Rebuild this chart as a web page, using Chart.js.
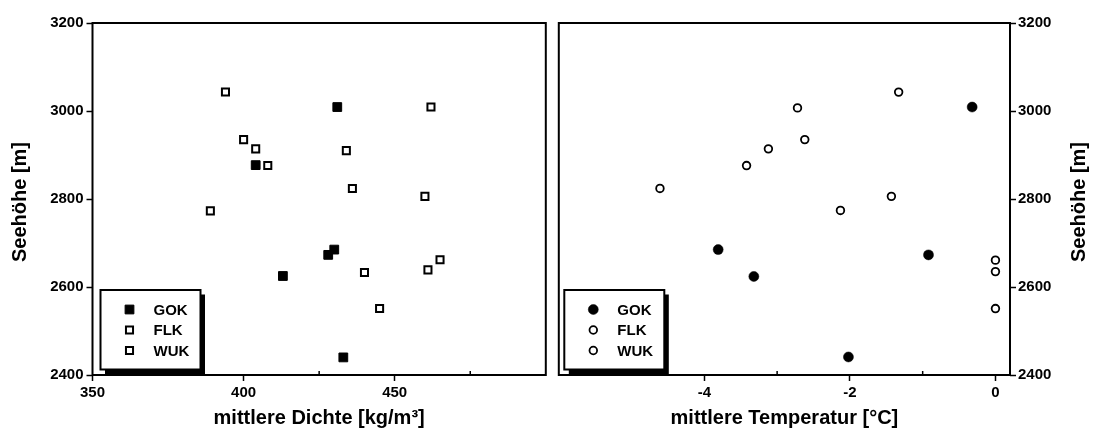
<!DOCTYPE html>
<html>
<head>
<meta charset="utf-8">
<script src="https://cdn.jsdelivr.net/npm/chart.js@4.4.1/dist/chart.umd.min.js"></script>
<style>
  body { margin: 0; background: #fff; }
  #wrap { position: relative; width: 1094px; height: 435px; }
  canvas { position: absolute; top: 0; }
  #left { left: 0; }
  #right { left: 553px; }
</style>
</head>
<body>
<div id="wrap">
  <canvas id="left" width="553" height="435"></canvas>
  <canvas id="right" width="541" height="435"></canvas>
</div>
<script>
// left panel: mittlere Dichte [kg/m³] against Seehöhe [m]
const gokDichte = [431, 404, 413, 428, 430, 433];
const gokDichteHoehe = [3009, 2877, 2625, 2673, 2685, 2440];
const flkDichte = [389, 460, 436, 440, 461, 465, 445];
const flkDichteHoehe = [2773, 2806, 2824, 2633, 2639, 2662, 2551];
const wukDichte = [394, 462, 400, 404, 434, 408];
const wukDichteHoehe = [3043, 3009, 2935, 2914, 2910, 2876];

// right panel: mittlere Temperatur [°C] against Seehöhe [m]
const gokTemp = [-0.32, -3.81, -3.32, -0.92, -2.02];
const gokTempHoehe = [3009, 2685, 2624, 2673, 2441];
const flkTemp = [-2.13, -1.43, -4.61, 0, 0, 0];
const flkTempHoehe = [2774, 2806, 2824, 2661, 2635, 2551];
const wukTemp = [-1.33, -2.72, -2.62, -3.12, -3.42];
const wukTempHoehe = [3043, 3007, 2935, 2914, 2876];

// tick labels
const hoeheTicks = [2400, 2600, 2800, 3000, 3200];
const dichteTicks = [350, 400, 450];
const dichteMinor = [375, 425, 475];
const tempTicks = [-4, -2, 0];
const tempMinor = [-5, -3, -1];

const FONT = "'Liberation Sans', Arial, sans-serif";

function pts(xs, ys) {
  return xs.map((x, i) => ({ x: x, y: ys[i] }));
}

// frame, inward minor ticks, y title and the boxed legend
const framePlugin = {
  id: "frame",
  afterDraw(chart, args, opts) {
    const ctx = chart.ctx;
    const a = chart.chartArea;
    const xs = chart.scales.x;
    ctx.save();
    ctx.strokeStyle = "#000";
    ctx.lineWidth = 2;
    ctx.strokeRect(a.left, a.top, a.right - a.left, a.bottom - a.top);

    ctx.lineWidth = 1.5;
    opts.minor.forEach((v) => {
      const px = xs.getPixelForValue(v);
      ctx.beginPath();
      ctx.moveTo(px, a.bottom);
      ctx.lineTo(px, a.bottom - 4);
      ctx.stroke();
    });

    // legend box with shadow
    const bx = a.left + opts.legendX;
    const by = a.bottom - 85;
    const bw = 100, bh = 79.5;
    ctx.fillStyle = "#000";
    ctx.fillRect(bx + 4.5, by + 4.5, bw, bh);
    ctx.fillStyle = "#fff";
    ctx.fillRect(bx, by, bw, bh);
    ctx.lineWidth = 2;
    ctx.strokeRect(bx, by, bw, bh);
    ctx.font = "bold 15px " + FONT;
    ctx.textAlign = "left";
    ctx.textBaseline = "middle";
    chart.data.datasets.forEach((ds, i) => {
      const y = by + 19.5 + i * 20.5;
      ctx.fillStyle = ds.backgroundColor;
      ctx.strokeStyle = ds.borderColor;
      ctx.lineWidth = ds.borderWidth;
      Chart.helpers.drawPoint(ctx, {
        pointStyle: ds.pointStyle,
        radius: ds.pointRadius,
        rotation: 0,
        borderWidth: ds.borderWidth
      }, bx + 29, y);
      ctx.fillStyle = "#000";
      ctx.fillText(ds.label, bx + 53, y + 1);
    });

    // y title, reads bottom to top on both sides
    ctx.font = "bold 20px " + FONT;
    ctx.fillStyle = "#000";
    ctx.textAlign = "center";
    ctx.translate(opts.titleX, (a.top + a.bottom) / 2 + 3);
    ctx.rotate(-Math.PI / 2);
    ctx.fillText("Seehöhe [m]", 0, 0);
    ctx.restore();
  }
};

const tickFont = { family: FONT, size: 15, weight: "bold" };
const titleFont = { family: FONT, size: 20, weight: "bold" };
const tickGrid = { drawOnChartArea: false, drawTicks: true, tickLength: 6, tickWidth: 1.5, tickColor: "#000" };

function makeChart(id, cfg) {
  return new Chart(document.getElementById(id), {
    type: "scatter",
    data: { datasets: cfg.datasets },
    options: {
      responsive: false,
      animation: false,
      layout: { padding: cfg.padding },
      plugins: {
        legend: { display: false },
        tooltip: { enabled: false },
        frame: cfg.frame
      },
      scales: {
        x: {
          type: "linear",
          min: cfg.xMin,
          max: cfg.xMax,
          afterBuildTicks: (s) => { s.ticks = cfg.xTicks.map((v) => ({ value: v })); },
          afterFit: (s) => { s.height = 60; },
          grid: tickGrid,
          border: { display: false },
          ticks: { color: "#000", font: tickFont, padding: 3, maxRotation: 0, autoSkip: false, callback: (v) => String(v) },
          title: { display: true, text: cfg.xTitle, color: "#000", font: titleFont, padding: { top: 0, bottom: 5 } }
        },
        y: {
          type: "linear",
          position: cfg.yPos,
          min: 2400,
          max: 3200,
          afterBuildTicks: (s) => { s.ticks = hoeheTicks.map((v) => ({ value: v })); },
          afterFit: (s) => { s.width = cfg.yWidth; },
          grid: tickGrid,
          border: { display: false },
          ticks: { color: "#000", font: tickFont, padding: cfg.yPad, autoSkip: false, callback: (v) => String(v) }
        }
      }
    },
    plugins: [framePlugin]
  });
}

document.addEventListener("DOMContentLoaded", () => {
  makeChart("left", {
    datasets: [
      { label: "GOK", data: pts(gokDichte, gokDichteHoehe), pointStyle: "rect", pointRadius: 6.2, backgroundColor: "#000", borderColor: "#000", borderWidth: 1 },
      { label: "FLK", data: pts(flkDichte, flkDichteHoehe), pointStyle: "rect", pointRadius: 5, backgroundColor: "#fff", borderColor: "#000", borderWidth: 2 },
      { label: "WUK", data: pts(wukDichte, wukDichteHoehe), pointStyle: "rect", pointRadius: 5, backgroundColor: "#fff", borderColor: "#000", borderWidth: 2 }
    ],
    padding: { top: 23, right: 1.5, left: 0, bottom: 0 },
    xMin: 350, xMax: 500, xTicks: dichteTicks,
    xTitle: "mittlere Dichte [kg/m³]",
    yPos: "left", yWidth: 92.5, yPad: 3,
    frame: { minor: dichteMinor, legendX: 8, titleX: 20 }
  });

  makeChart("right", {
    datasets: [
      { label: "GOK", data: pts(gokTemp, gokTempHoehe), pointStyle: "circle", pointRadius: 5, backgroundColor: "#000", borderColor: "#000", borderWidth: 0.5 },
      { label: "FLK", data: pts(flkTemp, flkTempHoehe), pointStyle: "circle", pointRadius: 3.8, backgroundColor: "#fff", borderColor: "#000", borderWidth: 1.8 },
      { label: "WUK", data: pts(wukTemp, wukTempHoehe), pointStyle: "circle", pointRadius: 3.8, backgroundColor: "#fff", borderColor: "#000", borderWidth: 1.8 }
    ],
    padding: { top: 23, right: 0, left: 3.7, bottom: 0 },
    xMin: -6, xMax: 0.2, xTicks: tempTicks,
    xTitle: "mittlere Temperatur [°C]",
    yPos: "right", yWidth: 84, yPad: 2,
    frame: { minor: tempMinor, legendX: 5.5, titleX: 526 }
  });
});
</script>
</body>
</html>
